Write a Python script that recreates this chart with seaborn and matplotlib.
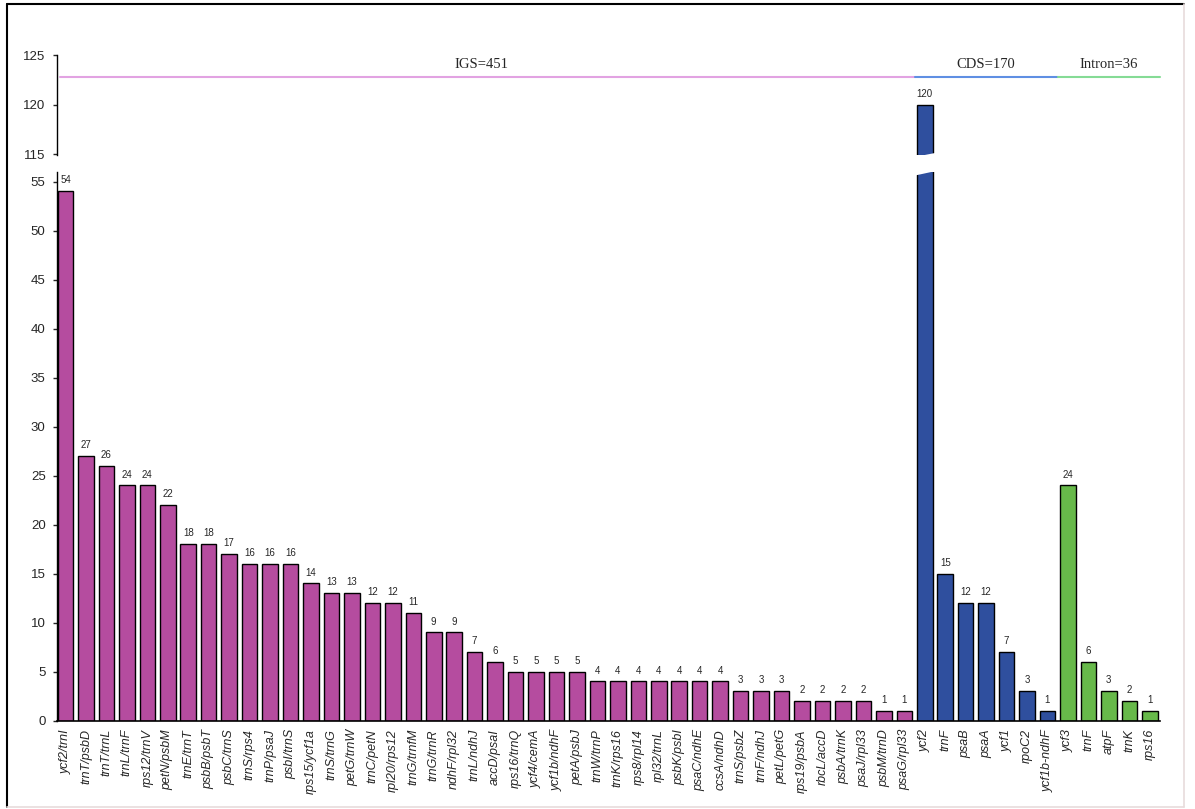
import matplotlib
matplotlib.use("Agg")
import matplotlib.pyplot as plt
from matplotlib.lines import Line2D
from matplotlib.patches import Polygon
import seaborn as sns
import pandas as pd

igs_labels = ["ycf2/trnI", "trnT/psbD", "trnT/trnL", "trnL/trnF", "rps12/trnV", "petN/psbM",
              "trnE/trnT", "psbB/psbT", "psbC/trnS", "trnS/rps4", "trnP/psaJ", "psbI/trnS",
              "rps15/ycf1a", "trnS/trnG", "petG/trnW", "trnC/petN", "rpl20/rps12", "trnG/trnfM",
              "trnG/trnR", "ndhF/rpl32", "trnL/ndhJ", "accD/psaI", "rps16/trnQ", "ycf4/cemA",
              "ycf1b/ndhF", "petA/psbJ", "trnW/trnP", "trnK/rps16", "rps8/rpl14", "rpl32/trnL",
              "psbK/psbI", "psaC/ndhE", "ccsA/ndhD", "trnS/psbZ", "trnF/ndhJ", "petL/petG",
              "rps19/psbA", "rbcL/accD", "psbA/trnK", "psaJ/rpl33", "psbM/trnD", "psaG/rpl33"]
igs_values = [54, 27, 26, 24, 24, 22, 18, 18, 17, 16, 16, 16, 14, 13, 13, 12, 12, 11, 9, 9, 7, 6,
              5, 5, 5, 5, 4, 4, 4, 4, 4, 4, 4, 3, 3, 3, 2, 2, 2, 2, 1, 1]
cds_labels = ["ycf2", "trnF", "psaB", "psaA", "ycf1", "rpoC2", "ycf1b-ndhF"]
cds_values = [120, 15, 12, 12, 7, 3, 1]
intron_labels = ["ycf3", "trnF", "atpF", "trnK", "rps16"]
intron_values = [24, 6, 3, 2, 1]
group_titles = ["IGS=451", "CDS=170", "Intron=36"]

labels = igs_labels + cds_labels + intron_labels
values = igs_values + cds_values + intron_values
groups = ["IGS"] * len(igs_labels) + ["CDS"] * len(cds_labels) + ["Intron"] * len(intron_labels)
df = pd.DataFrame({"pos": list(range(len(labels))), "value": values, "group": groups})

palette = {"IGS": "#B54C9F", "CDS": "#2F4F9E", "Intron": "#67B94A"}
line_colors = ["#E2A3E2", "#5F8FE3", "#85DB95"]

sns.set_style("white")
plt.rcParams["font.family"] = ["Liberation Sans", "DejaVu Sans"]

fig = plt.figure(figsize=(11.95, 8.09), dpi=100)
L, R = 56.7 / 1195, 1160 / 1195
ax_lo = fig.add_axes([L, 1 - 720.7 / 809, R - L, 549 / 809])
ax_hi = fig.add_axes([L, 1 - 155 / 809, R - L, 100 / 809])

for ax in (ax_lo, ax_hi):
    sns.barplot(data=df, x="pos", y="value", hue="group", palette=palette, dodge=False,
                width=0.76, edgecolor="black", linewidth=1.0, legend=False, ax=ax, saturation=1)
    ax.set_xlim(-0.43, 53.5)
    ax.set_xlabel("")
    ax.set_ylabel("")
    for s in ["top", "right"]:
        ax.spines[s].set_visible(False)
    ax.spines["left"].set_color("black")
    ax.spines["left"].set_linewidth(1.0)
    ax.tick_params(axis="y", direction="out", length=3, width=1, labelsize=9.5, pad=5, left=True)

ax_lo.set_ylim(0, 56)
ax_lo.set_yticks(range(0, 56, 5))
ax_lo.spines["bottom"].set_color("black")
ax_lo.spines["bottom"].set_linewidth(1.2)
ax_lo.set_xticks(range(len(labels)))
ax_lo.set_xticklabels(labels, rotation=90, fontsize=9, style="italic", va="top", ha="center")
ax_lo.tick_params(axis="x", length=0, pad=6)

ax_hi.set_ylim(114.9, 125)
ax_hi.set_yticks([115, 120, 125])
ax_hi.spines["bottom"].set_visible(False)
ax_hi.set_xticks([])

# value labels
for i, v in enumerate(values):
    if v > 56:
        ax_hi.text(i, v + 0.6, str(v), ha="center", va="bottom", fontsize=7)
    else:
        ax_lo.text(i, v + 0.6, str(v), ha="center", va="bottom", fontsize=7)

# diagonal break on the tall bar
ib = values.index(max(values))
ax_lo.add_patch(Polygon([[ib - 0.5, 55.6], [ib + 0.5, 56.05], [ib + 0.5, 57], [ib - 0.5, 57]],
                        closed=True, facecolor="white", edgecolor="none", zorder=5, clip_on=False))
ax_hi.add_patch(Polygon([[ib - 0.5, 114.5], [ib + 0.5, 114.5], [ib + 0.5, 115.1], [ib - 0.5, 114.7]],
                        closed=True, facecolor="white", edgecolor="none", zorder=5, clip_on=False))

# group lines and titles
n1 = len(igs_labels)
n2 = n1 + len(cds_labels)
n3 = n2 + len(intron_labels)
spans = [(-0.25, n1 - 0.5), (n1 - 0.5, n2 - 0.5), (n2 - 0.5, n3 - 0.5)]
for (a, b), t, c in zip(spans, group_titles, line_colors):
    ax_hi.plot([a, b], [122.8, 122.8], color=c, lw=1.5, clip_on=False)
    ax_hi.text((a + b) / 2 + (0.0 if t != "IGS=451" else -0.3), 123.4, t, ha="center", va="bottom",
               fontsize=10.5, family=["Liberation Serif", "DejaVu Serif"])

# outer frame
fig.add_artist(Line2D([7 / 1195, 7 / 1195], [0.002, 1 - 4 / 809], color="black", lw=1.5))
fig.add_artist(Line2D([7 / 1195, 1184 / 1195], [1 - 4 / 809, 1 - 4 / 809], color="black", lw=1.5))
fig.add_artist(Line2D([1184 / 1195, 1184 / 1195], [0.002, 1 - 4 / 809], color="#e8dcdc", lw=1.2))
fig.add_artist(Line2D([7 / 1195, 1184 / 1195], [0.003, 0.003], color="#e8dcdc", lw=1.2))

fig.savefig("out.png", dpi=100)
